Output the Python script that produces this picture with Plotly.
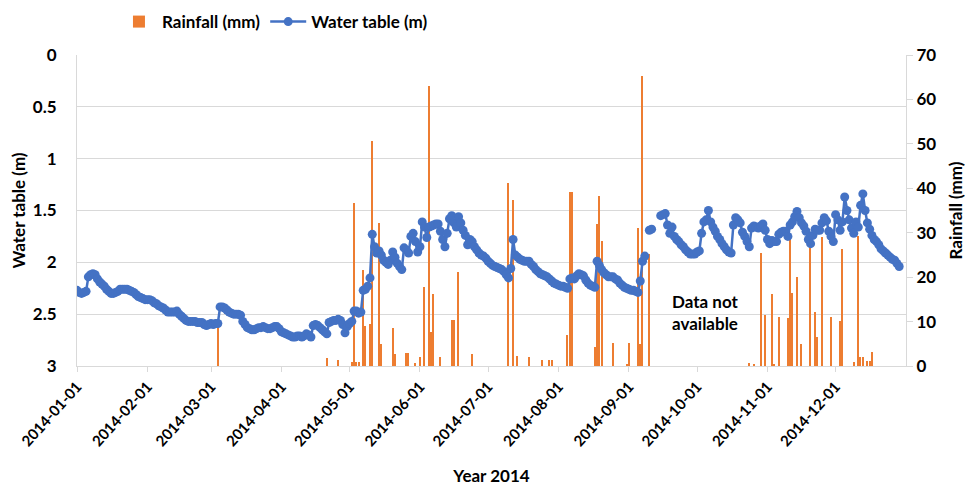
import pandas as pd
import plotly.graph_objects as go

# water table depth (m), day offset from 2014-01-01; None = gap in record
wt_day = list(range(0, 251)) + [251, 252, 253, 254] + list(range(257, 363))
wt_m = [
    2.27, 2.29, 2.30, 2.29, 2.28, 2.14, 2.12, 2.11, 2.12, 2.16,
    2.19, 2.21, 2.23, 2.26, 2.28, 2.30, 2.30, 2.29, 2.28, 2.26,
    2.26, 2.26, 2.26, 2.27, 2.28, 2.29, 2.31, 2.33, 2.34, 2.35,
    2.36, 2.36, 2.36, 2.37, 2.39, 2.40, 2.42, 2.43, 2.44, 2.46,
    2.48, 2.48, 2.48, 2.48, 2.47, 2.50, 2.52, 2.54, 2.56, 2.57,
    2.57, 2.57, 2.57, 2.58, 2.58, 2.58, 2.60, 2.61, 2.60, 2.59,
    2.60, 2.59, 2.59, 2.43, 2.43, 2.44, 2.46, 2.48, 2.49, 2.50,
    2.50, 2.50, 2.51, 2.57, 2.60, 2.63, 2.64, 2.65, 2.65, 2.64,
    2.63, 2.63, 2.62, 2.63, 2.64, 2.64, 2.63, 2.62, 2.62, 2.64,
    2.67, 2.68, 2.69, 2.70, 2.71, 2.72, 2.72, 2.71, 2.71, 2.72,
    2.71, 2.69, 2.70, 2.72, 2.61, 2.60, 2.61, 2.63, 2.65, 2.67,
    2.69, 2.58, 2.57, 2.56, 2.56, 2.55, 2.56, 2.60, 2.68, 2.62,
    2.59, 2.57, 2.47, 2.47, 2.49, 2.48, 2.27, 2.26, 2.23, 2.15,
    1.73, 1.85, 1.91, 1.89, 1.93, 1.98, 2.00, 2.02, 1.98, 1.90,
    1.95, 2.01, 2.04, 2.07, 1.86, 1.88, 1.91, 1.75, 1.72, 1.80,
    1.90, 1.85, 1.61, 1.66, 1.76, 1.66, 1.65, 1.64, 1.63, 1.63,
    1.70, 1.78, 1.85, 1.72, 1.58, 1.55, 1.62, 1.66, 1.56, 1.62,
    1.69, 1.74, 1.83, 1.78, 1.80, 1.85, 1.88, 1.91, 1.93, 1.94,
    1.96, 1.99, 2.01, 2.03, 2.04, 2.05, 2.06, 2.07, 2.09, 2.12,
    2.15, 2.06, 1.78, 1.93, 1.95, 1.97, 1.98, 1.99, 1.99, 1.99,
    2.02, 2.04, 2.07, 2.09, 2.11, 2.12, 2.13, 2.14, 2.16, 2.18,
    2.20, 2.21, 2.22, 2.23, 2.23, 2.24, 2.25, 2.16, 2.15, 2.16,
    2.13, 2.11, 2.12, 2.13, 2.17, 2.20, 2.22, 2.23, 2.24, 1.99,
    2.03, 2.07, 2.10, 2.12, 2.14, 2.14, 2.14, 2.16, 2.17, 2.20,
    2.22, 2.24, 2.25, 2.26, 2.27, 2.27, 2.28, 2.29, 2.18, 1.99,
    1.94,
    None, 1.69, 1.68, None,
    1.55, 1.54, 1.53, 1.64, 1.72, 1.66, 1.75, 1.78, 1.80, 1.83,
    1.85, 1.88, 1.90, 1.92, 1.92, 1.92, 1.90, 1.89, 1.72, 1.61,
    1.59, 1.50, 1.61, 1.66, 1.70, 1.75, 1.78, 1.82, 1.85, 1.88,
    1.90, 1.91, 1.64, 1.57, 1.59, 1.62, 1.71, 1.75, 1.80, 1.85,
    1.67, 1.65, 1.66, 1.67, 1.65, 1.63, 1.69, 1.78, 1.82, 1.79,
    1.80, 1.80, 1.73, 1.71, 1.70, 1.70, 1.75, 1.64, 1.61, 1.56,
    1.51, 1.57, 1.62, 1.65, 1.70, 1.78, 1.82, 1.74, 1.68, 1.69,
    1.69, 1.62, 1.57, 1.60, 1.70, 1.75, 1.80, 1.54, 1.59, 1.69,
    1.61, 1.37, 1.50, 1.59, 1.67, 1.72, 1.61, 1.66, 1.45, 1.34,
    1.50, 1.62, 1.68, 1.74, 1.78, 1.80, 1.83, 1.87, 1.89, 1.91,
    1.93, 1.95, 1.97, 1.98, 2.01, 2.04,
]

# daily rainfall (mm), day offset from 2014-01-01
rain_day = [62, 110, 115, 121, 122, 123, 124, 126, 127, 129, 130, 133, 134,
            139, 140, 145, 146, 149, 151, 153, 155, 156, 157, 160, 165, 166,
            168, 174, 190, 192, 194, 199, 205, 208, 209, 216, 217, 218, 228,
            229, 230, 231, 236, 242, 243, 247, 248, 249, 252,
            296, 298, 301, 303, 306, 307, 309, 313, 314, 315, 317, 319, 323,
            325, 326, 328, 332, 336, 337, 342, 344, 345, 346, 348, 349, 350]
rain_mm = [10.0, 1.7, 1.4, 0.9, 36.6, 1.0, 1.0, 21.6, 9.0, 9.5, 50.7, 32.1, 5.0,
           8.6, 2.8, 3.0, 3.0, 0.6, 2.0, 17.7, 63.0, 7.7, 16.1, 2.0, 10.4, 10.4,
           21.1, 2.8, 41.1, 37.4, 2.2, 2.0, 1.4, 1.4, 1.4, 7.0, 39.2, 39.2, 4.2,
           32.0, 38.3, 28.1, 5.2, 0.5, 5.2, 31.1, 5.0, 65.2, 25.1,
           0.6, 0.5, 25.4, 11.5, 16.1, 0.5, 11.0, 10.7, 29.3, 16.4, 20.1, 5.0, 27.0,
           12.2, 6.6, 29.1, 11.0, 10.1, 26.3, 1.0, 29.3, 2.0, 2.0, 1.2, 1.2, 3.1]

month_ticks = ['2014-%02d-01' % m for m in range(1, 13)]

start = pd.Timestamp('2014-01-01')
wt_dates = start + pd.to_timedelta(wt_day, unit='D')
rain_dates = start + pd.to_timedelta(rain_day, unit='D')

font = 'Lato, Carlito, Calibri, sans-serif'
grid = '#d9d9d9'

fig = go.Figure()
fig.add_trace(go.Bar(x=rain_dates, y=rain_mm, name='Rainfall (mm)',
                     marker=dict(color='#ED7D31', line=dict(width=0)),
                     width=0.55 * 86400000, yaxis='y'))
fig.add_trace(go.Scatter(x=wt_dates, y=wt_m, name='Water table (m)',
                         mode='lines+markers',
                         line=dict(color='#4472C4', width=2.5),
                         marker=dict(size=9, color='#4472C4'),
                         yaxis='y2'))

fig.add_annotation(x='2014-09-19', y=12, xref='x', yref='y',
                   text='Data not<br>available', showarrow=False,
                   xanchor='left', yanchor='middle', align='left',
                   font=dict(family=font, size=17, color='black', weight='bold'))

# page has an 8px body margin, so the figure is 8px smaller than the window
fig.update_layout(
    width=965, height=478,
    margin=dict(l=69, r=67, t=47, b=120, autoexpand=False),
    plot_bgcolor='white', paper_bgcolor='white',
    font=dict(family=font, size=16, color='black', weight='bold'),
    bargap=0,
    legend=dict(orientation='h', x=0.047, xanchor='left', y=1.106, yanchor='middle',
                font=dict(size=17, weight='bold'), itemwidth=36, traceorder='normal'),
    xaxis=dict(type='date', range=['2014-01-01', '2015-01-01'],
               tickvals=month_ticks, tickformat='%Y-%m-%d', tickangle=-48,
               tickfont=dict(size=15, weight='bold'),
               ticks='outside', ticklen=5, tickcolor=grid,
               showline=True, linecolor=grid, showgrid=False, automargin=False,
               title=dict(text='Year 2014', standoff=26,
                          font=dict(size=17, weight='bold'))),
    yaxis=dict(side='right', range=[0, 70], dtick=10, showgrid=False,
               zeroline=False, ticks='outside', ticklen=6, tickcolor=grid,
               showline=True, linecolor=grid, automargin=False,
               tickfont=dict(size=17, weight='bold'),
               title=dict(text='Rainfall (mm)', standoff=14,
                          font=dict(size=17, weight='bold'))),
    yaxis2=dict(overlaying='y', side='left', range=[3, 0],
                tickvals=[0, 0.5, 1, 1.5, 2, 2.5, 3],
                ticktext=['0', '0.5', '1', '1.5', '2', '2.5', '3'],
                showgrid=True, gridcolor=grid, zeroline=False,
                showline=True, linecolor=grid, ticklabelstandoff=16,
                automargin=False,
                tickfont=dict(size=17, weight='bold'),
                title=dict(text='Water table (m)', standoff=4,
                           font=dict(size=17, weight='bold'))),
)

fig.write_html('out.html')
